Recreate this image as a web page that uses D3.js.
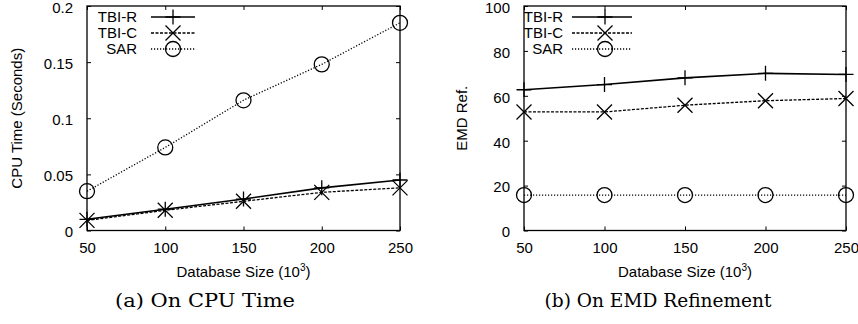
<!DOCTYPE html>
<html lang="en">
<head>
    <meta charset="UTF-8">
    <title>CPU Time and EMD Refinement</title>
    <script src="https://d3js.org/d3.v7.min.js"></script>
    <style>
        body { margin: 0; padding: 0; background: #fff; }
        svg text { font-family: "Liberation Sans", Arial, sans-serif; fill: #000; }
        .caption { font-family: "DejaVu Serif", "Liberation Serif", serif; }
        .frame { fill: none; stroke: #000; stroke-width: 1.3px; }
        .tick line { stroke: #000; stroke-width: 1px; }
        .series { fill: none; stroke: #000; }
    </style>
</head>
<body>
<div id="chart"></div>
<script>
    // database sizes (x10^3)
    const sizes = [50, 100, 150, 200, 250];

    // panel (a): CPU time in seconds
    const cpuTbiR = [0.010, 0.019, 0.028, 0.038, 0.045];
    const cpuTbiC = [0.009, 0.018, 0.026, 0.034, 0.038];
    const cpuSar  = [0.035, 0.074, 0.116, 0.148, 0.185];
    const cpuTicks = [0, 0.05, 0.1, 0.15, 0.2];

    // panel (b): EMD refinements
    const emdTbiR = [62.7, 65, 68, 70, 69.5];
    const emdTbiC = [52.8, 52.8, 55.8, 57.8, 58.8];
    const emdSar  = [15.8, 15.8, 15.8, 15.8, 15.8];
    const emdTicks = [0, 20, 40, 60, 80, 100];

    const seriesNames = ["TBI-R", "TBI-C", "SAR"];

    const styles = {
        "TBI-R": { dash: null, width: 1.6, marker: "plus" },
        "TBI-C": { dash: "3,1.5", width: 1.3, marker: "cross" },
        "SAR":   { dash: "1.2,1.8", width: 1.3, marker: "circle" }
    };

    const panels = [
        {
            left: 87, right: 400, top: 6, bottom: 230.5,
            domain: [0, 0.2], ticks: cpuTicks, values: [cpuTbiR, cpuTbiC, cpuSar],
            ylabel: "CPU Time (Seconds)", ylabelX: 17,
            caption: "(a) On CPU Time", captionX: 205, captionLen: 180,
            legend: { textX: 137, x1: 151, x2: 195, mx: 173 }
        },
        {
            left: 524, right: 846, top: 6, bottom: 230.5,
            domain: [0, 100], ticks: emdTicks, values: [emdTbiR, emdTbiC, emdSar],
            ylabel: "EMD Ref.", ylabelX: 462,
            caption: "(b) On EMD Refinement", captionX: 658, captionLen: 227,
            legend: { textX: 563, x1: 572, x2: 632, mx: 605 }
        }
    ];

    const svg = d3.select("#chart").append("svg")
        .attr("width", 858)
        .attr("height", 324);

    function drawMarker(g, type, x, y) {
        const s = 7.5;
        if (type === "plus") {
            g.append("path").attr("class", "series").attr("stroke-width", 1.3)
                .attr("d", `M${x - s},${y}H${x + s}M${x},${y - s}V${y + s}`);
        } else if (type === "cross") {
            g.append("path").attr("class", "series").attr("stroke-width", 1.3)
                .attr("d", `M${x - s},${y - s}L${x + s},${y + s}M${x - s},${y + s}L${x + s},${y - s}`);
        } else {
            g.append("circle").attr("class", "series").attr("stroke-width", 1.3)
                .attr("cx", x).attr("cy", y).attr("r", 7.5);
        }
    }

    panels.forEach(p => {
        const g = svg.append("g");

        const x = d3.scaleLinear().domain([50, 250]).range([p.left, p.right]);
        const y = d3.scaleLinear().domain(p.domain).range([p.bottom, p.top]);

        // axes with inward ticks on all four sides
        g.append("g")
            .attr("transform", `translate(0,${p.bottom})`)
            .call(d3.axisBottom(x).tickValues(sizes).tickSizeInner(-4).tickSizeOuter(0).tickPadding(12));
        g.append("g")
            .attr("transform", `translate(0,${p.top})`)
            .call(d3.axisTop(x).tickValues(sizes).tickSizeInner(-4).tickSizeOuter(0).tickFormat(""));
        const leftAxis = g.append("g")
            .attr("transform", `translate(${p.left},0)`)
            .call(d3.axisLeft(y).tickValues(p.ticks).tickSizeInner(-4).tickSizeOuter(0).tickPadding(14).tickFormat(d => String(d)));
        g.append("g")
            .attr("transform", `translate(${p.right},0)`)
            .call(d3.axisRight(y).tickValues(p.ticks).tickSizeInner(-4).tickSizeOuter(0).tickFormat(""));

        g.selectAll(".domain").remove();
        g.selectAll(".tick text").style("font-size", "15px").attr("fill", "#000");
        leftAxis.selectAll(".tick text").attr("dy", "0.42em");

        g.append("rect").attr("class", "frame")
            .attr("x", p.left).attr("y", p.top)
            .attr("width", p.right - p.left).attr("height", p.bottom - p.top);

        // series lines and markers
        const line = d3.line().x((d, i) => x(sizes[i])).y(d => y(d));
        seriesNames.forEach((name, k) => {
            const st = styles[name];
            g.append("path").datum(p.values[k])
                .attr("class", "series")
                .attr("stroke-width", st.width)
                .attr("stroke-dasharray", st.dash)
                .attr("d", line);
            p.values[k].forEach((v, i) => drawMarker(g, st.marker, x(sizes[i]), y(v)));
        });

        // legend
        seriesNames.forEach((name, k) => {
            const st = styles[name];
            const ly = 17 + k * 16;
            g.append("text")
                .attr("x", p.legend.textX).attr("y", ly)
                .attr("dy", "0.35em")
                .attr("text-anchor", "end")
                .style("font-size", "15px")
                .text(name);
            g.append("line").attr("class", "series")
                .attr("x1", p.legend.x1).attr("x2", p.legend.x2)
                .attr("y1", ly).attr("y2", ly)
                .attr("stroke-width", st.width)
                .attr("stroke-dasharray", st.dash);
            drawMarker(g, st.marker, p.legend.mx, ly);
        });

        // axis labels
        const xl = g.append("text")
            .attr("x", (p.left + p.right) / 2).attr("y", 277)
            .attr("text-anchor", "middle")
            .style("font-size", "15px")
            .text("Database Size (10");
        xl.append("tspan").attr("dy", -6).style("font-size", "10px").text("3");
        xl.append("tspan").attr("dy", 6).text(")");

        g.append("text")
            .attr("transform", `translate(${p.ylabelX},${(p.top + p.bottom) / 2}) rotate(-90)`)
            .attr("text-anchor", "middle")
            .attr("dy", "0.35em")
            .style("font-size", "15px")
            .text(p.ylabel);

        // caption below the plot
        g.append("text")
            .attr("class", "caption")
            .attr("x", p.captionX).attr("y", 307)
            .attr("text-anchor", "middle")
            .attr("textLength", p.captionLen)
            .attr("lengthAdjust", "spacingAndGlyphs")
            .style("font-size", "18px")
            .text(p.caption);
    });
</script>
</body>
</html>
